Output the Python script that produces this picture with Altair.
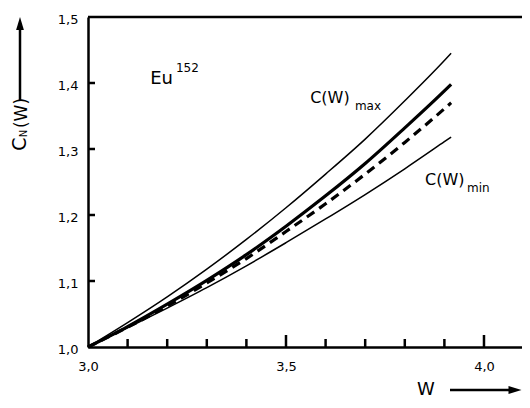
import altair as alt
import pandas as pd

# ---- data ----
W = [3.0, 3.1, 3.2, 3.3, 3.4, 3.5, 3.6, 3.7, 3.8, 3.9, 3.917]
c_max = [1.000, 1.037, 1.076, 1.118, 1.163, 1.211, 1.262, 1.315, 1.373, 1.434, 1.445]
c_mid = [1.000, 1.031, 1.065, 1.101, 1.140, 1.183, 1.229, 1.278, 1.332, 1.388, 1.398]
c_dash = [1.000, 1.030, 1.062, 1.097, 1.134, 1.175, 1.217, 1.262, 1.310, 1.361, 1.370]
c_min = [1.000, 1.029, 1.059, 1.090, 1.123, 1.158, 1.194, 1.231, 1.270, 1.311, 1.318]

y_tick_values = [1.0, 1.1, 1.2, 1.3, 1.4, 1.5]
y_inner_ticks = [1.1, 1.2, 1.3, 1.4]
x_label_values = [3.0, 3.5, 4.0]
x_minor_ticks = [3.1, 3.2, 3.3, 3.4, 3.6, 3.7, 3.8, 3.9]
x_major_ticks = [3.5, 4.0]

rows = []
for name, vals in [("max", c_max), ("mid", c_mid), ("dash", c_dash), ("min", c_min)]:
    for w, c in zip(W, vals):
        rows.append({"W": w, "C": c, "series": name})
df = pd.DataFrame(rows)

FONT = "DejaVu Sans"
PW, PH = 434, 330
xscale = alt.Scale(domain=[3.0, 4.096], nice=False, zero=False)
yscale = alt.Scale(domain=[1.0, 1.5], nice=False, zero=False)
label_expr = "replace(format(datum.value, '.1f'), '.', ',')"
xaxis = alt.Axis(values=x_label_values, labelExpr=label_expr, ticks=False, domain=True,
                 domainColor="black", domainWidth=2.5,
                 grid=False, title=None, labelFlush=False, labelPadding=13,
                 labelFontSize=13, labelColor="black", labelFont=FONT)
yaxis = alt.Axis(values=y_tick_values, labelExpr=label_expr, ticks=False, domain=True,
                 domainColor="black", domainWidth=2.5,
                 grid=False, title=None, labelFlush=False, labelPadding=10, labelOffset=2,
                 labelFontSize=13, labelColor="black", labelFont=FONT)

X = alt.X("W:Q", scale=xscale, axis=xaxis)
Y = alt.Y("C:Q", scale=yscale, axis=yaxis)

base = alt.Chart(df)
thin = base.transform_filter(
    alt.FieldOneOfPredicate(field="series", oneOf=["max", "min"])
).mark_line(color="black", strokeWidth=1.5, interpolate="monotone").encode(
    x=X, y=Y, detail="series:N")
thick = base.transform_filter(alt.datum.series == "mid").mark_line(
    color="black", strokeWidth=3.2, interpolate="monotone").encode(x=X, y=Y)
dashed = base.transform_filter(alt.datum.series == "dash").mark_line(
    color="black", strokeWidth=3.2, strokeDash=[9, 6], interpolate="monotone").encode(x=X, y=Y)

ytk = alt.Chart(pd.DataFrame({"C": y_inner_ticks})).mark_rule(
    color="black", strokeWidth=2.5).encode(y=Y, x=alt.value(0), x2=alt.value(7))
xminor = alt.Chart(pd.DataFrame({"W": x_minor_ticks})).mark_rule(
    color="black", strokeWidth=2.5).encode(x=X, y=alt.value(PH), y2=alt.value(PH - 8))
xmajor = alt.Chart(pd.DataFrame({"W": x_major_ticks})).mark_rule(
    color="black", strokeWidth=2.5).encode(x=X, y=alt.value(PH), y2=alt.value(PH - 12))

one = pd.DataFrame({"a": [0]})

top_line = alt.Chart(one).mark_rule(color="black", strokeWidth=2.5).encode(
    x=alt.value(0), x2=alt.value(PW), y=alt.value(0))

def txt(t, w, c, size, align="left"):
    return alt.Chart(one).mark_text(text=t, font=FONT, fontSize=size, align=align,
                                    baseline="alphabetic", color="black").encode(
        x=alt.datum(w, scale=xscale), y=alt.datum(c, scale=yscale))

eu = txt("Eu", 3.157, 1.398, 18)
eu_sup = txt("152", 3.222, 1.4167, 12)
cmax = txt("C(W)", 3.561, 1.370, 16)
cmax_sub = txt("max", 3.674, 1.359, 12)
cmin = txt("C(W)", 3.851, 1.245, 16)
cmin_sub = txt("min", 3.957, 1.235, 12)

def ptxt(t, x, y, size, angle=0):
    return alt.Chart(one).mark_text(text=t, font=FONT, fontSize=size, align="center",
                                    baseline="middle", angle=angle, color="black").encode(
        x=alt.value(x), y=alt.value(y))

ytitle_c = ptxt("C", -68, 127, 19, 270)
ytitle_n = ptxt("N", -64, 116.5, 10, 270)
ytitle_w = ptxt("(W)", -66, 96, 17, 270)
xtitle = alt.Chart(one).mark_text(text="W", font=FONT, fontSize=18, align="center",
                                  baseline="alphabetic", color="black").encode(
    x=alt.value(338), y=alt.value(378))

yarrow = alt.Chart(one).mark_rule(color="black", strokeWidth=2.5).encode(
    x=alt.value(-68), y=alt.value(83), y2=alt.value(10))
yhead = alt.Chart(one).mark_point(shape="M0,-1L0.6,1L-0.6,1Z", filled=True, size=169,
                                  color="black", opacity=1).encode(
    x=alt.value(-68), y=alt.value(6.5))
xarrow = alt.Chart(one).mark_rule(color="black", strokeWidth=2.5).encode(
    x=alt.value(362), x2=alt.value(424), y=alt.value(373))
xhead = alt.Chart(one).mark_point(shape="M1,0L-1,0.6L-1,-0.6Z", filled=True, size=169,
                                  color="black", opacity=1).encode(
    x=alt.value(427), y=alt.value(373))

chart = alt.layer(
    thin, thick, dashed, ytk, xminor, xmajor, top_line,
    eu, eu_sup, cmax, cmax_sub, cmin, cmin_sub,
    ytitle_c, ytitle_n, ytitle_w, xtitle, yarrow, yhead, xarrow, xhead
).properties(
    width=PW, height=PH,
    autosize=alt.AutoSizeParams(type="none"),
    padding={"left": 80, "top": 9, "right": 0, "bottom": 53},
    background="white",
).configure_view(stroke=None).configure(font=FONT)

chart.save("out.html", embed_options={"renderer": "svg", "actions": False})
